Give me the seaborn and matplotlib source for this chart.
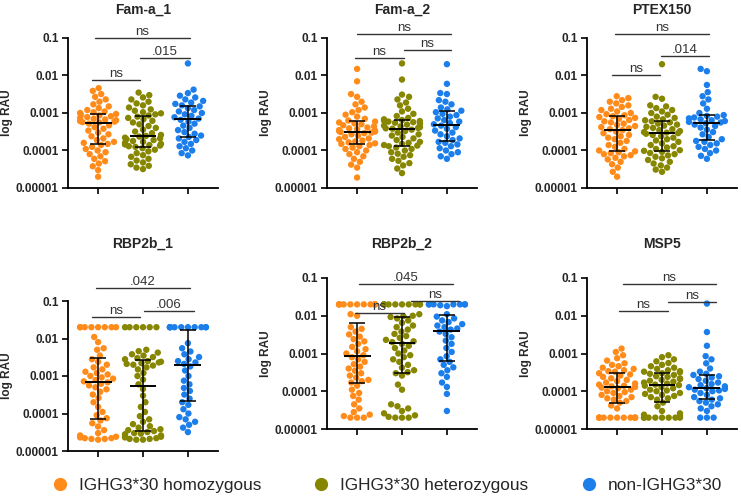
"""Antibody levels (log RAU) by IGHG3*30 genotype for six antigens."""

import warnings

import matplotlib

matplotlib.use("Agg")
import matplotlib.pyplot as plt
from matplotlib.lines import Line2D
from matplotlib.ticker import NullLocator
import numpy as np
import pandas as pd
import seaborn as sns

warnings.filterwarnings("ignore", category=UserWarning)

GROUPS = ["IGHG3*30 homozygous", "IGHG3*30 heterozygous", "non-IGHG3*30"]
COLORS = ["#ff8c1a", "#868600", "#1c7eeb"]
ANTIGENS = ["Fam-a_1", "Fam-a_2", "PTEX150", "RBP2b_1", "RBP2b_2", "MSP5"]
Y_TICKS = [0.00001, 0.0001, 0.001, 0.01, 0.1]
Y_TICK_LABELS = ["0.00001", "0.0001", "0.001", "0.01", "0.1"]

# comparison order: homo vs non, het vs non, homo vs het
COMPARISONS = [(0, 2), (1, 2), (0, 1)]
P_LABELS = [
    ["ns", ".015", "ns"],
    ["ns", "ns", "ns"],
    ["ns", ".014", "ns"],
    [".042", ".006", "ns"],
    [".045", "ns", "ns"],
    ["ns", "ns", "ns"],
]

# ---- values (RAU) ----
FAM_A1_HOMO = [
    4.6e-3, 3.9e-3, 3.2e-3, 2.7e-3, 2.3e-3, 2.0e-3, 1.7e-3, 1.5e-3, 1.35e-3, 1.2e-3, 1.1e-3, 1.05e-3, 1.0e-3,
    9.4e-4, 9.0e-4, 8.6e-4, 8.2e-4, 7.8e-4, 7.4e-4, 7.0e-4, 6.7e-4, 6.4e-4, 6.1e-4, 5.9e-4, 5.7e-4, 5.6e-4,
    5.2e-4, 4.7e-4, 4.2e-4, 3.8e-4, 3.4e-4, 3.0e-4, 2.7e-4, 2.4e-4, 2.1e-4, 1.9e-4, 1.7e-4, 1.6e-4, 1.5e-4,
    1.4e-4, 1.25e-4, 1.1e-4, 1.0e-4, 9.0e-5, 8.0e-5, 7.0e-5, 6.0e-5, 5.2e-5, 4.5e-5, 3.8e-5, 3.0e-5, 2.0e-5,
]
FAM_A1_HET = [
    3.5e-3, 3.0e-3, 2.6e-3, 2.3e-3, 2.0e-3, 1.8e-3, 1.6e-3, 1.4e-3, 1.25e-3, 1.15e-3, 1.05e-3, 9.8e-4, 9.2e-4,
    8.6e-4, 8.0e-4, 7.4e-4, 6.8e-4, 6.2e-4, 5.6e-4, 5.0e-4, 4.5e-4, 4.0e-4, 3.6e-4, 3.2e-4, 2.9e-4, 2.6e-4, 2.45e-4,
    2.35e-4, 2.2e-4, 2.1e-4, 2.0e-4, 1.9e-4, 1.8e-4, 1.7e-4, 1.6e-4, 1.5e-4, 1.45e-4, 1.4e-4, 1.35e-4, 1.3e-4,
    1.25e-4, 1.15e-4, 1.05e-4, 9.5e-5, 8.5e-5, 7.5e-5, 6.8e-5, 6.0e-5, 5.4e-5, 4.8e-5, 4.3e-5, 3.9e-5, 3.5e-5, 3.2e-5,
]
FAM_A1_NON = [
    2.1e-2, 4.2e-3, 3.4e-3, 2.9e-3, 2.6e-3, 2.3e-3, 2.1e-3, 1.9e-3, 1.75e-3,
    1.6e-3, 1.5e-3, 1.35e-3, 1.2e-3, 1.1e-3, 1.0e-3, 9.2e-4, 8.4e-4, 7.7e-4, 7.1e-4,
    6.6e-4, 5.9e-4, 5.2e-4, 4.6e-4, 4.0e-4, 3.5e-4, 3.1e-4, 2.8e-4, 2.5e-4, 2.3e-4,
    2.1e-4, 1.9e-4, 1.7e-4, 1.5e-4, 1.3e-4, 1.15e-4, 1.0e-4, 8.5e-5, 7.4e-5,
]

FAM_A2_HOMO = [
    1.5e-2, 7.0e-3, 3.2e-3, 2.7e-3, 2.0e-3, 1.7e-3, 1.4e-3, 1.2e-3, 1.05e-3, 9.0e-4, 8.0e-4, 7.0e-4, 6.3e-4,
    5.9e-4, 5.6e-4, 5.3e-4, 5.0e-4, 4.7e-4, 4.4e-4, 4.1e-4, 3.9e-4, 3.7e-4, 3.5e-4, 3.4e-4, 3.3e-4, 3.2e-4,
    3.1e-4, 3.0e-4, 2.9e-4, 2.7e-4, 2.5e-4, 2.3e-4, 2.1e-4, 2.0e-4, 1.85e-4, 1.75e-4, 1.65e-4, 1.55e-4, 1.5e-4,
    1.4e-4, 1.3e-4, 1.2e-4, 1.1e-4, 1.0e-4, 9.0e-5, 8.0e-5, 7.0e-5, 6.0e-5, 5.0e-5, 4.2e-5, 3.5e-5, 1.9e-5,
]
FAM_A2_HET = [
    2.1e-2, 7.8e-3, 3.1e-3, 2.7e-3, 2.3e-3, 1.9e-3, 1.6e-3, 1.3e-3, 1.1e-3, 9.5e-4, 8.3e-4, 7.4e-4, 6.8e-4,
    6.5e-4, 6.3e-4, 6.1e-4, 5.9e-4, 5.7e-4, 5.5e-4, 5.2e-4, 4.9e-4, 4.6e-4, 4.4e-4, 4.2e-4, 4.0e-4, 3.9e-4, 3.8e-4,
    3.6e-4, 3.3e-4, 3.0e-4, 2.7e-4, 2.5e-4, 2.3e-4, 2.1e-4, 1.9e-4, 1.7e-4, 1.6e-4, 1.5e-4, 1.4e-4, 1.35e-4,
    1.3e-4, 1.2e-4, 1.1e-4, 1.0e-4, 9.0e-5, 8.2e-5, 7.5e-5, 6.8e-5, 6.0e-5, 5.3e-5, 4.6e-5, 4.0e-5, 3.3e-5, 2.5e-5,
]
FAM_A2_NON = [
    2.0e-2, 6.0e-3, 3.4e-3, 3.2e-3, 2.2e-3, 2.0e-3, 1.7e-3, 1.4e-3, 1.25e-3,
    1.15e-3, 1.05e-3, 9.5e-4, 8.8e-4, 8.0e-4, 7.2e-4, 6.5e-4, 5.9e-4, 5.4e-4, 5.0e-4,
    4.6e-4, 4.2e-4, 3.8e-4, 3.4e-4, 3.0e-4, 2.7e-4, 2.4e-4, 2.1e-4, 1.9e-4, 1.7e-4,
    1.6e-4, 1.45e-4, 1.3e-4, 1.15e-4, 1.0e-4, 9.0e-5, 8.0e-5, 7.0e-5, 6.0e-5,
]

PTEX150_HOMO = [
    2.8e-3, 2.5e-3, 2.2e-3, 2.0e-3, 1.8e-3, 1.6e-3, 1.45e-3, 1.3e-3, 1.2e-3, 1.1e-3, 1.0e-3, 9.3e-4, 8.7e-4,
    8.2e-4, 7.8e-4, 7.4e-4, 7.0e-4, 6.5e-4, 6.0e-4, 5.6e-4, 5.2e-4, 4.8e-4, 4.5e-4, 4.2e-4, 3.9e-4, 3.7e-4,
    3.5e-4, 3.2e-4, 2.9e-4, 2.6e-4, 2.4e-4, 2.2e-4, 2.0e-4, 1.8e-4, 1.6e-4, 1.4e-4, 1.25e-4, 1.1e-4, 1.0e-4,
    9.5e-5, 9.0e-5, 8.5e-5, 8.0e-5, 7.5e-5, 7.0e-5, 6.4e-5, 5.8e-5, 5.0e-5, 4.3e-5, 3.5e-5, 2.7e-5, 2.0e-5,
]
PTEX150_HET = [
    2.0e-2, 2.7e-3, 2.4e-3, 1.6e-3, 1.5e-3, 1.35e-3, 1.2e-3, 1.1e-3, 1.0e-3, 9.0e-4, 8.0e-4, 7.4e-4, 6.8e-4,
    6.4e-4, 6.0e-4, 5.6e-4, 5.2e-4, 4.9e-4, 4.6e-4, 4.3e-4, 4.0e-4, 3.7e-4, 3.5e-4, 3.3e-4, 3.1e-4, 3.0e-4, 2.9e-4,
    2.8e-4, 2.6e-4, 2.4e-4, 2.2e-4, 2.0e-4, 1.85e-4, 1.7e-4, 1.55e-4, 1.4e-4, 1.3e-4, 1.2e-4, 1.1e-4, 1.02e-4,
    9.8e-5, 9.2e-5, 8.6e-5, 8.0e-5, 7.4e-5, 6.8e-5, 6.2e-5, 5.6e-5, 5.0e-5, 4.5e-5, 4.0e-5, 3.5e-5, 3.1e-5, 2.7e-5,
]
PTEX150_NON = [
    1.5e-2, 1.3e-2, 5.6e-3, 3.6e-3, 2.8e-3, 2.3e-3, 1.8e-3, 1.3e-3, 1.0e-3,
    8.8e-4, 8.4e-4, 8.0e-4, 7.6e-4, 7.2e-4, 6.8e-4, 6.4e-4, 6.1e-4, 5.8e-4, 5.6e-4,
    5.3e-4, 4.9e-4, 4.5e-4, 4.1e-4, 3.6e-4, 3.1e-4, 2.7e-4, 2.3e-4, 2.0e-4, 1.8e-4,
    1.7e-4, 1.55e-4, 1.4e-4, 1.25e-4, 1.1e-4, 1.0e-4, 8.5e-5, 7.2e-5, 6.0e-5,
]

RBP2B1_HOMO = [
    2e-2, 2e-2, 2e-2, 2e-2, 2e-2, 2e-2, 2e-2, 2e-2, 1.1e-2, 8.0e-3, 5.5e-3, 5.0e-3, 3.5e-3,
    2.8e-3, 2.4e-3, 2.0e-3, 1.7e-3, 1.5e-3, 1.3e-3, 1.2e-3, 1.1e-3, 1.0e-3, 9.2e-4, 8.5e-4, 7.8e-4, 7.2e-4,
    6.8e-4, 6.2e-4, 5.6e-4, 5.0e-4, 4.4e-4, 3.8e-4, 3.2e-4, 2.6e-4, 2.0e-4, 1.5e-4, 1.1e-4, 9.0e-5, 7.5e-5,
    6.5e-5, 5.5e-5, 4.5e-5, 3.6e-5, 3.0e-5, 2.6e-5, 2.4e-5, 2.3e-5, 2.2e-5, 2.2e-5, 2.1e-5, 2.1e-5, 2.0e-5,
]
RBP2B1_HET = [
    2e-2, 2e-2, 2e-2, 2e-2, 2e-2, 2e-2, 5.0e-3, 4.6e-3, 4.2e-3, 3.8e-3, 3.5e-3, 3.2e-3, 3.0e-3, 2.8e-3,
    2.5e-3, 2.4e-3, 2.3e-3, 2.2e-3, 2.1e-3, 2.0e-3, 1.9e-3, 1.7e-3, 1.5e-3, 1.2e-3, 1.0e-3, 8.0e-4, 6.0e-4,
    4.5e-4, 3.0e-4, 2.0e-4, 1.5e-4, 1.1e-4, 8.5e-5, 7.0e-5, 6.0e-5, 5.2e-5, 4.6e-5, 4.2e-5, 3.8e-5, 3.6e-5,
    3.4e-5, 3.2e-5, 3.0e-5, 2.9e-5, 2.8e-5, 2.6e-5, 2.5e-5, 2.4e-5, 2.3e-5, 2.2e-5, 2.1e-5, 2.1e-5, 2.0e-5, 2.0e-5,
]
RBP2B1_NON = [
    2e-2, 2e-2, 2e-2, 2e-2, 2e-2, 2e-2, 2e-2, 2e-2, 2e-2,
    2e-2, 7.5e-3, 5.5e-3, 4.5e-3, 3.8e-3, 3.2e-3, 2.8e-3, 2.5e-3, 2.3e-3, 2.1e-3,
    1.8e-3, 1.4e-3, 1.0e-3, 7.5e-4, 6.0e-4, 4.8e-4, 4.0e-4, 3.2e-4, 2.5e-4, 2.0e-4,
    1.7e-4, 1.3e-4, 1.0e-4, 8.0e-5, 7.0e-5, 6.0e-5, 5.0e-5, 4.2e-5, 3.2e-5,
]

RBP2B2_HOMO = [
    2e-2, 2e-2, 2e-2, 2e-2, 2e-2, 2e-2, 2e-2, 2e-2, 2e-2, 2e-2, 2e-2, 1.1e-2, 1.0e-2,
    5.0e-3, 4.5e-3, 3.8e-3, 3.2e-3, 2.8e-3, 2.4e-3, 2.1e-3, 1.8e-3, 1.5e-3, 1.3e-3, 1.15e-3, 1.0e-3, 9.0e-4,
    8.0e-4, 7.0e-4, 6.0e-4, 5.2e-4, 4.5e-4, 4.0e-4, 3.5e-4, 3.0e-4, 2.6e-4, 2.3e-4, 2.0e-4, 1.85e-4, 1.7e-4,
    1.4e-4, 1.1e-4, 9.0e-5, 7.5e-5, 6.0e-5, 4.5e-5, 3.5e-5, 2.8e-5, 2.4e-5, 2.2e-5, 2.0e-5, 2.0e-5, 2.0e-5,
]
RBP2B2_HET = [
    2e-2, 2e-2, 2e-2, 2e-2, 2e-2, 2e-2, 2e-2, 2e-2, 2e-2, 2e-2, 1.1e-2, 1.0e-2, 9.8e-3, 9.3e-3,
    8.5e-3, 7.5e-3, 6.5e-3, 5.5e-3, 5.0e-3, 4.3e-3, 3.8e-3, 3.3e-3, 2.9e-3, 2.6e-3, 2.3e-3, 2.1e-3, 2.0e-3,
    1.8e-3, 1.6e-3, 1.4e-3, 1.2e-3, 1.0e-3, 9.0e-4, 8.0e-4, 7.0e-4, 6.0e-4, 5.0e-4, 4.2e-4, 3.6e-4, 3.2e-4,
    3.0e-4, 2.6e-4, 1.5e-4, 1.1e-4, 4.5e-5, 4.0e-5, 3.5e-5, 3.0e-5, 2.6e-5, 2.3e-5, 2.1e-5, 2.0e-5, 2.0e-5, 2.0e-5,
]
RBP2B2_NON = [
    2e-2, 2e-2, 2e-2, 2e-2, 2e-2, 2e-2, 2e-2, 1.9e-2, 1.8e-2,
    1.1e-2, 9.5e-3, 8.5e-3, 7.5e-3, 6.8e-3, 6.0e-3, 5.5e-3, 5.0e-3, 4.6e-3, 4.3e-3,
    3.8e-3, 3.3e-3, 2.7e-3, 2.2e-3, 1.8e-3, 1.4e-3, 1.1e-3, 8.5e-4, 7.0e-4, 6.0e-4,
    5.0e-4, 4.3e-4, 3.6e-4, 3.0e-4, 2.4e-4, 1.7e-4, 1.3e-4, 8.5e-5, 3.0e-5,
]

MSP5_HOMO = [
    1.35e-3, 1.1e-3, 9.0e-4, 7.5e-4, 6.5e-4, 5.5e-4, 5.0e-4, 4.6e-4, 4.2e-4, 3.9e-4, 3.6e-4, 3.4e-4, 3.3e-4,
    3.0e-4, 2.8e-4, 2.6e-4, 2.4e-4, 2.2e-4, 2.0e-4, 1.85e-4, 1.7e-4, 1.6e-4, 1.5e-4, 1.4e-4, 1.35e-4, 1.3e-4,
    1.25e-4, 1.2e-4, 1.1e-4, 1.0e-4, 9.5e-5, 9.0e-5, 8.0e-5, 7.5e-5, 7.0e-5, 6.5e-5, 6.0e-5, 5.5e-5, 5.0e-5,
    4.2e-5, 3.5e-5, 2e-5, 2e-5, 2e-5, 2e-5, 2e-5, 2e-5, 2e-5, 2e-5, 2e-5, 2e-5, 2e-5,
]
MSP5_HET = [
    9.0e-4, 8.0e-4, 7.0e-4, 6.2e-4, 5.6e-4, 5.0e-4, 4.6e-4, 4.2e-4, 3.9e-4, 3.6e-4, 3.4e-4, 3.3e-4, 3.2e-4,
    3.0e-4, 2.9e-4, 2.7e-4, 2.5e-4, 2.4e-4, 2.2e-4, 2.1e-4, 2.0e-4, 1.9e-4, 1.8e-4, 1.7e-4, 1.6e-4, 1.5e-4, 1.45e-4,
    1.4e-4, 1.3e-4, 1.2e-4, 1.1e-4, 1.05e-4, 1.0e-4, 9.0e-5, 8.5e-5, 8.0e-5, 7.5e-5, 7.0e-5, 6.5e-5, 6.0e-5,
    5.0e-5, 4.0e-5, 3.0e-5, 2.6e-5, 2.4e-5, 2.2e-5, 2e-5, 2e-5, 2e-5, 2e-5, 2e-5, 2e-5, 2e-5, 2e-5,
]
MSP5_NON = [
    2.1e-2, 3.7e-3, 1.6e-3, 8.5e-4, 7.0e-4, 5.5e-4, 4.0e-4, 3.3e-4, 2.9e-4,
    2.7e-4, 2.5e-4, 2.3e-4, 2.1e-4, 1.9e-4, 1.7e-4, 1.55e-4, 1.45e-4, 1.35e-4, 1.28e-4,
    1.2e-4, 1.15e-4, 1.1e-4, 1.05e-4, 1.0e-4, 9.0e-5, 8.0e-5, 7.0e-5, 6.5e-5, 6.0e-5,
    5.5e-5, 5.0e-5, 4.5e-5, 4.0e-5, 3.5e-5, 3.0e-5, 2.0e-5, 2.0e-5, 2.0e-5,
]

PANEL_DATA = [
    [FAM_A1_HOMO, FAM_A1_HET, FAM_A1_NON],
    [FAM_A2_HOMO, FAM_A2_HET, FAM_A2_NON],
    [PTEX150_HOMO, PTEX150_HET, PTEX150_NON],
    [RBP2B1_HOMO, RBP2B1_HET, RBP2B1_NON],
    [RBP2B2_HOMO, RBP2B2_HET, RBP2B2_NON],
    [MSP5_HOMO, MSP5_HET, MSP5_NON],
]

# ---- layout (pixels -> figure fractions, data coords) ----
W, H = 741, 499
AXES_PX = [  # left, bottom-of-axis y, top-of-axis y, width
    (68, 188, 38, 150),
    (327, 188, 38, 150),
    (587, 188, 38, 150),
    (68, 451, 301, 150),
    (327, 429, 278, 150),
    (587, 429, 278, 150),
]
TITLE_Y_PX = [10, 10, 10, 244, 244, 244]
BRACKETS = [  # (x0, x1, y) for each comparison
    [(-0.06, 2.04, 0.1), (0.93, 2.04, 0.029), (-0.14, 0.93, 0.0076)],
    [(0.0, 2.1, 0.128), (1.04, 2.1, 0.048), (-0.04, 1.04, 0.029)],
    [(-0.04, 2.04, 0.128), (0.98, 2.04, 0.033), (-0.11, 0.96, 0.0102)],
    [(-0.04, 2.04, 0.222), (1.02, 2.13, 0.054), (-0.13, 0.93, 0.037)],
    [(0.04, 2.13, 0.069), (1.2, 2.27, 0.0243), (-0.04, 1.04, 0.0117)],
    [(0.13, 2.2, 0.069), (1.13, 2.2, 0.023), (0.04, 1.13, 0.0132)],
]

sns.set_theme(style="ticks")
plt.rcParams["font.family"] = ["Liberation Sans", "DejaVu Sans"]

fig = plt.figure(figsize=(W / 100, H / 100), dpi=100)
fig.patch.set_facecolor("white")

for k, name in enumerate(ANTIGENS):
    left, bot, top, width = AXES_PX[k]
    ax = fig.add_axes([left / W, 1 - bot / H, width / W, (bot - top) / H])
    ax.set_facecolor("white")
    ax.set_yscale("log")

    groups = PANEL_DATA[k]
    df = pd.DataFrame(
        {
            "group": np.repeat(GROUPS, [len(g) for g in groups]),
            "value": np.concatenate(groups),
        }
    )
    sns.swarmplot(
        data=df,
        x="group",
        y="value",
        hue="group",
        order=GROUPS,
        hue_order=GROUPS,
        palette=COLORS,
        size=4.6,
        linewidth=0,
        legend=False,
        ax=ax,
        zorder=2,
    )

    # median with interquartile range
    for i, vals in enumerate(groups):
        q1, med, q3 = np.percentile(vals, [25, 50, 75])
        ax.hlines(med, i - 0.3, i + 0.3, color="black", lw=1.4, zorder=4)
        ax.vlines(i, q1, q3, color="black", lw=1.1, zorder=4)
        ax.hlines([q1, q3], i - 0.17, i + 0.17, color="black", lw=1.1, zorder=4)

    # significance brackets
    for (x0, x1, y), label in zip(BRACKETS[k], P_LABELS[k]):
        ax.plot([x0, x1], [y, y], color="#333333", lw=1.0, clip_on=False, zorder=3)
        ax.annotate(
            label,
            xy=((x0 + x1) / 2, y),
            xytext=(0, 2.2),
            textcoords="offset points",
            ha="center",
            va="baseline",
            fontsize=9.5,
            color="#333333",
            annotation_clip=False,
        )

    ax.set_ylim(1e-5, 0.1)
    ax.set_xlim(-0.67, 2.67)
    ax.set_yticks(Y_TICKS)
    ax.set_yticklabels(Y_TICK_LABELS, fontweight="bold", fontsize=8.5)
    ax.yaxis.set_minor_locator(NullLocator())
    ax.set_xticks([0, 1, 2])
    ax.set_xticklabels(["", "", ""])
    ax.set_xlabel("")
    ax.set_ylabel("log RAU", fontweight="bold", fontsize=8.5)
    ax.yaxis.set_label_coords(-0.365, 0.5)
    ax.tick_params(axis="both", direction="out", length=4.5, width=1.2, color="black", pad=2)
    sns.despine(ax=ax)
    for side in ("left", "bottom"):
        ax.spines[side].set_linewidth(1.3)
        ax.spines[side].set_color("black")

    fig.text(
        (left + width / 2) / W,
        1 - TITLE_Y_PX[k] / H,
        name,
        ha="center",
        va="center",
        fontweight="bold",
        fontsize=10,
    )

handles = [
    Line2D([], [], marker="o", ls="", color=c, markersize=8.5) for c in COLORS
]
fig.legend(
    handles,
    GROUPS,
    loc="center left",
    bbox_to_anchor=(0.048, 0.028),
    ncol=3,
    frameon=False,
    fontsize=12.4,
    handlelength=1.0,
    handletextpad=0.6,
    columnspacing=3.0,
)

fig.savefig("out.png", dpi=100, facecolor="white")
plt.close(fig)
